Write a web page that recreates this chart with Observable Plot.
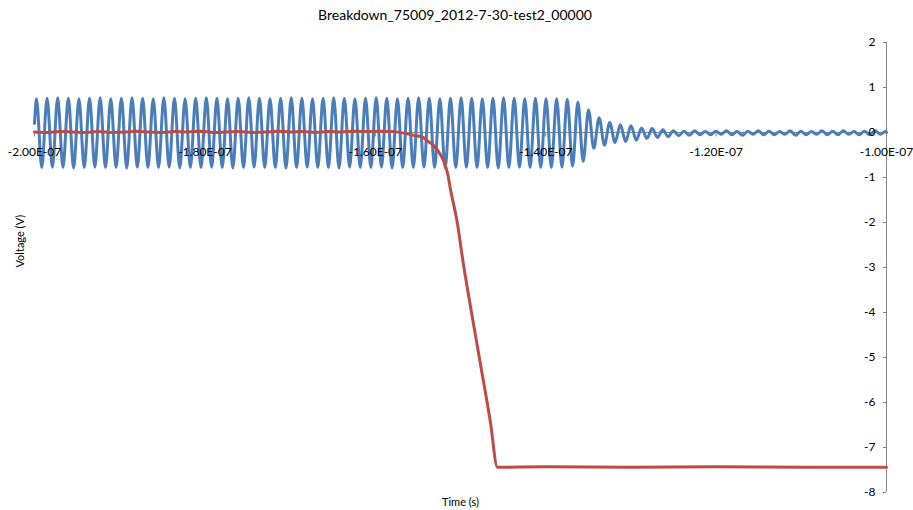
<!DOCTYPE html>
<html><head><meta charset="utf-8">
<script src="https://cdn.jsdelivr.net/npm/d3@7"></script>
<script src="https://cdn.jsdelivr.net/npm/@observablehq/plot@0.6"></script>
<style>
body{margin:0;background:#fff;}
#wrap{position:relative;width:913px;height:510px;font-family:Lato,"Open Sans",sans-serif;}
#title{position:absolute;top:6px;left:0;width:910px;text-align:center;font-size:14px;color:#000;}
</style></head><body>
<div id="wrap"><div id="title">Breakdown_75009_2012-7-30-test2_00000</div></div>
<script>
// ---- data ----
const titleText = "Breakdown_75009_2012-7-30-test2_00000";
const xTicks = [-2e-7, -1.8e-7, -1.6e-7, -1.4e-7, -1.2e-7, -1e-7];
const xTickLabels = ["-2.00E-07", "-1.80E-07", "-1.60E-07", "-1.40E-07", "-1.20E-07", "-1.00E-07"];
const yTicks = [2, 1, 0, -1, -2, -3, -4, -5, -6, -7, -8];
const yTickLabels = ["2", "1", "0", "-1", "-2", "-3", "-4", "-5", "-6", "-7", "-8"];

// Blue channel: successive extrema (peak / trough values, V) of the ringing signal
const blueStart = { t: -200e-9, v: 0.2 };
const blueEnd = { t: -100e-9, v: 0.0 };
const blueFirstExtremumTime = -199.77e-9;  // s
const blueHalfPeriod = 0.623e-9;          // s, sampling grid of the extrema
const blueExtrema = [
  0.75,-0.78,0.76,-0.77,0.77,-0.78,0.76,-0.79,0.75,-0.78,
  0.76,-0.77,0.77,-0.78,0.75,-0.78,0.76,-0.79,0.77,-0.77,
  0.76,-0.78,0.75,-0.78,0.77,-0.77,0.76,-0.79,0.75,-0.78,
  0.76,-0.78,0.77,-0.77,0.76,-0.78,0.75,-0.79,0.76,-0.78,
  0.77,-0.77,0.76,-0.78,0.75,-0.78,0.76,-0.79,0.77,-0.78,
  0.76,-0.77,0.75,-0.78,0.76,-0.78,0.77,-0.79,0.76,-0.77,
  0.75,-0.78,0.76,-0.78,0.77,-0.77,0.76,-0.79,0.75,-0.78,
  0.76,-0.78,0.77,-0.77,0.76,-0.78,0.75,-0.79,0.76,-0.78,
  0.77,-0.77,0.76,-0.78,0.75,-0.78,0.76,-0.79,0.77,-0.78,
  0.76,-0.77,0.75,-0.78,0.76,-0.78,0.75,-0.78,0.75,-0.77,
  0.74,-0.75,0.68,-0.64,0.5,-0.35,0.33,-0.28,0.22,-0.22,
  0.17,-0.2,0.15,-0.17,0.1,-0.13,0.09,-0.11,0.06,-0.09,
  0.04,-0.07,0.03,-0.06,0.04,-0.05,0.02,-0.05,0.03,-0.04,
  0.04,-0.05,0.02,-0.06,0.03,-0.04,0.04,-0.05,0.03,-0.05,
  0.02,-0.04,0.04,-0.06,0.03,-0.05,0.02,-0.04,0.04,-0.05,
  0.03,-0.05,0.04,-0.04,0.02,-0.05,0.03,-0.05,0.04,-0.04,
  0.03
];

// Red channel: time (ns) and voltage (V)
const redTimeNs = [-200,-198.5,-197,-195.5,-194,-192.5,-191,-189.5,-188,-186.5,-185,-183.5,-182,-180.5,-179,-177.5,-176,-174.5,-173,-171.5,-170,-168.5,-167,-165.5,-164,-162.5,-161,-159.5,-158,-156.5,-155.3,-154.5,-153.8,-153.1,-152.6,-152.0,-151.5,-151.2,-150.4,-149.7,-148.8,-147.7,-146.5,-145.66,-140,-130,-120,-110,-100];
const redVolt = [0.01,0.0,0.02,0.01,0.0,0.02,0.0,0.01,0.03,0.01,0.0,0.02,0.01,0.03,0.0,0.01,0.02,0.0,0.01,0.03,0.01,0.02,0.0,0.02,0.01,0.03,0.02,0.03,0.02,-0.02,-0.07,-0.1,-0.2,-0.3,-0.42,-0.62,-0.92,-1.24,-1.98,-2.87,-3.9,-5.1,-6.42,-7.44,-7.43,-7.44,-7.43,-7.44,-7.44];

// ---- build tables ----
const blue = [blueStart,
  ...blueExtrema.map((v, i) => ({ t: blueFirstExtremumTime + i * blueHalfPeriod, v })),
  blueEnd];
const red = redTimeNs.map((t, i) => ({ t: t * 1e-9, v: redVolt[i] }));

const axisColor = "#868686";
const xMax = -1e-7;

const plot = Plot.plot({
  width: 913, height: 510,
  marginLeft: 34, marginRight: 27, marginTop: 42, marginBottom: 18,
  x: { domain: [-2e-7, -1e-7], axis: null },
  y: { domain: [-8, 2], axis: null },
  style: { fontFamily: "Lato, 'Open Sans', sans-serif", fontSize: "12px", background: "transparent", color: "#000" },
  marks: [
    Plot.ruleY([0], { stroke: axisColor, strokeWidth: 1 }),
    Plot.ruleX(xTicks, { x: d => d, y1: 0, y2: -0.1, stroke: axisColor }),
    Plot.ruleX([xMax], { y1: -8, y2: 2, stroke: axisColor }),
    Plot.ruleY(yTicks, { y: d => d, x1: -1.0035e-7, x2: xMax, stroke: axisColor }),
    Plot.line(blue, { x: "t", y: "v", stroke: "#4A7EBB", strokeWidth: 3, curve: "monotone-x" }),
    Plot.line(red, { x: "t", y: "v", stroke: "#BE4B48", strokeWidth: 3, curve: "monotone-x" }),
    Plot.text(xTicks, { x: d => d, y: 0, dy: 20, text: (d, i) => xTickLabels[i], fill: "#000" }),
    Plot.text(yTicks, { x: xMax, y: d => d, dx: -11, textAnchor: "end", text: (d, i) => yTickLabels[i], fill: "#000" }),
    Plot.text(["Voltage (V)"], { frameAnchor: "left", rotate: -90, dx: -14, fontSize: 11, fill: "#000" }),
    Plot.text(["Time (s)"], { frameAnchor: "bottom", dy: 13, fontSize: 11, fill: "#000" })
  ]
});
plot.style.position = "absolute";
plot.style.left = "0";
plot.style.top = "0";
document.getElementById("wrap").prepend(plot);
</script>
</body></html>
